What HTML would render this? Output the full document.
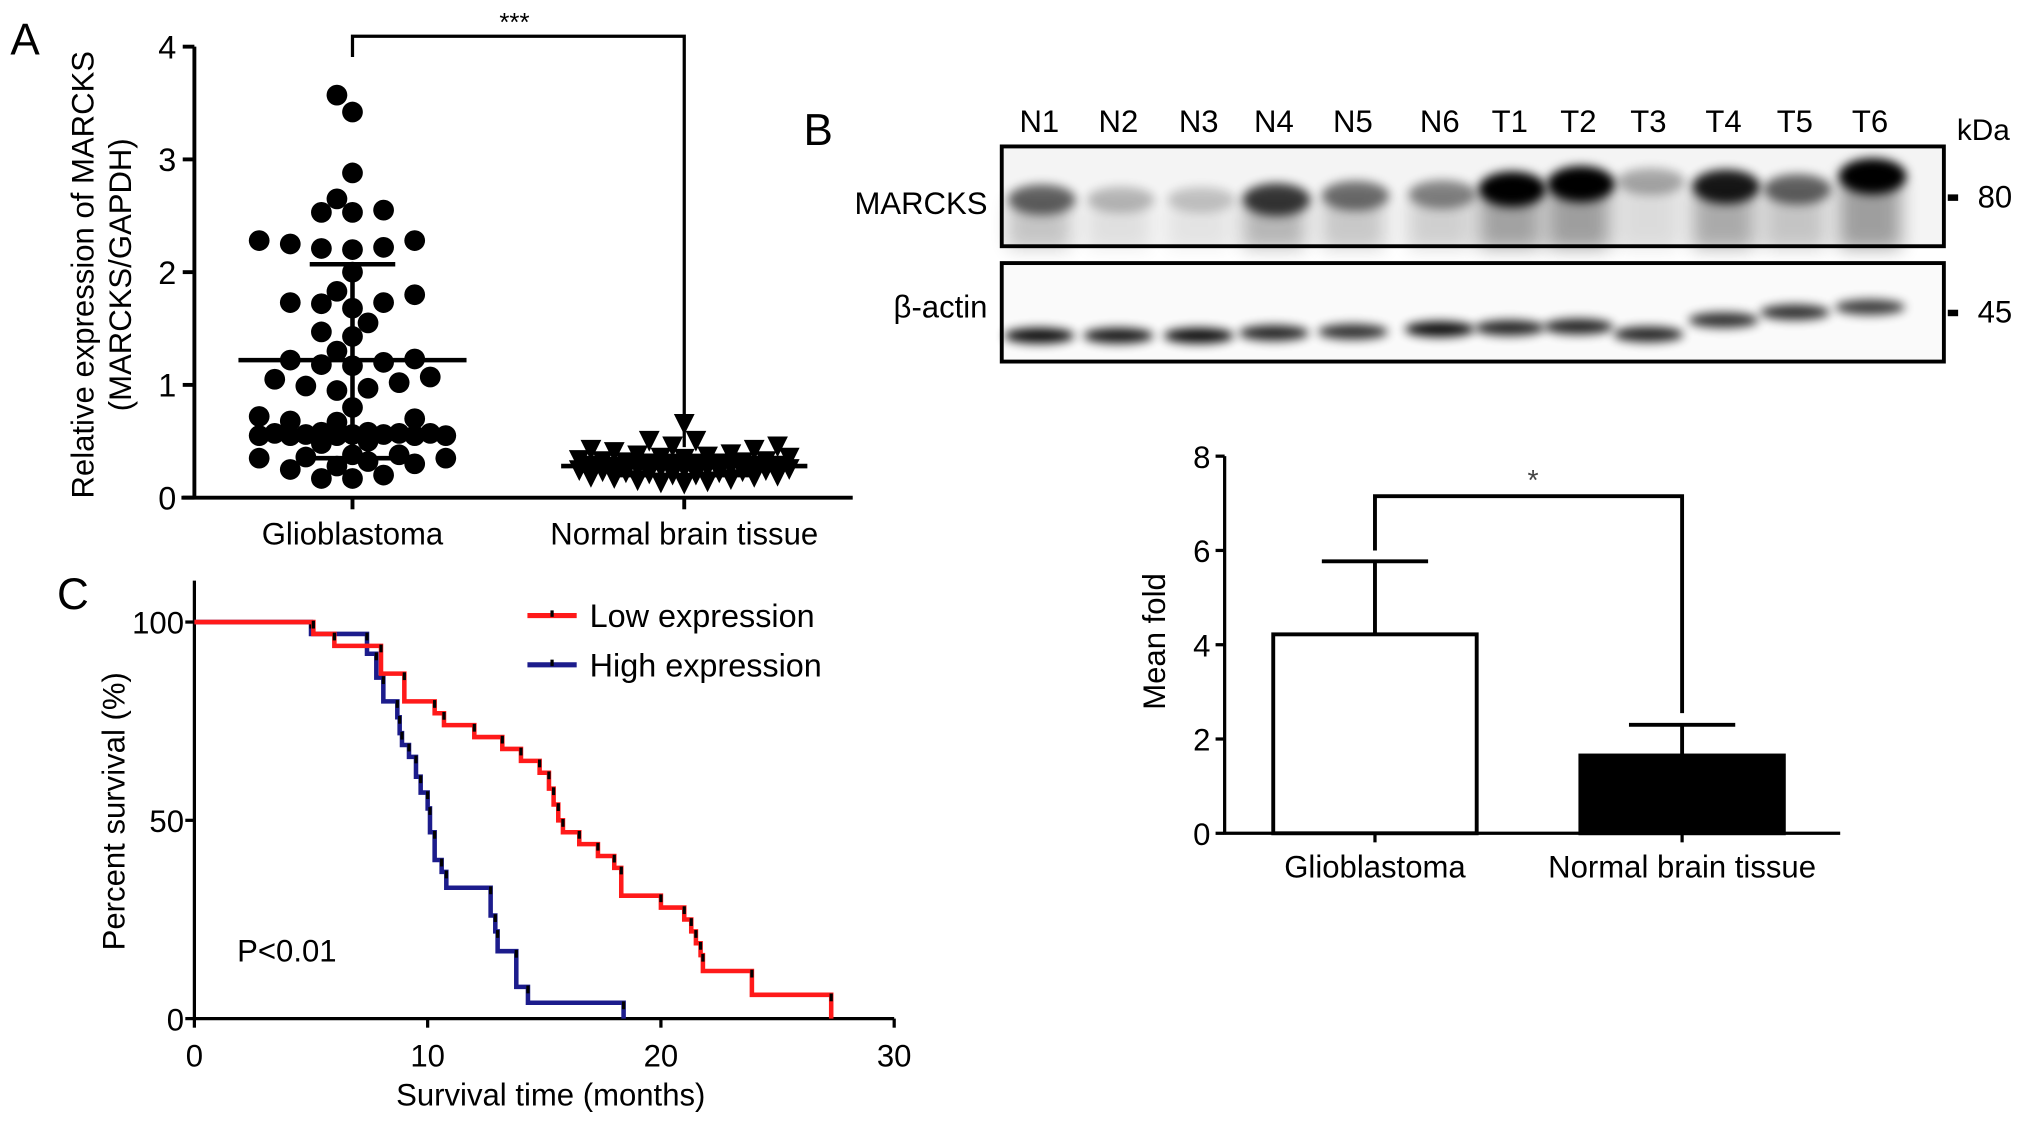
<!DOCTYPE html>
<html><head><meta charset="utf-8">
<style>
html,body{margin:0;padding:0;background:#fff;}
svg{display:block;font-family:"Liberation Sans",Arial,sans-serif;}
</style></head>
<body>
<svg id="fig" width="2032" height="1125" viewBox="0 0 1568 868.1" preserveAspectRatio="none" xmlns="http://www.w3.org/2000/svg">
<defs>
<filter id="blur" x="-50%" y="-100%" width="200%" height="300%"><feGaussianBlur stdDeviation="4"/></filter>
<filter id="blur2" x="-50%" y="-100%" width="200%" height="300%"><feGaussianBlur stdDeviation="7"/></filter>
</defs>
<g id="panelA"></g>
<g id="panelB"></g>
<g id="panelB2"></g>
<g id="panelC"></g>
</svg>
<script>
// ---------- Panel A data ----------
const aCategories = ["Glioblastoma", "Normal brain tissue"];
const aTicks = [0, 1, 2, 3, 4];
const gbmValues = [3.57,3.42,2.88,2.65,2.55,2.53,2.53,2.28,2.25,2.22,2.21,2.28,2.2,2.0,1.83,1.8,1.73,1.73,1.72,1.68,1.55,1.47,1.43,1.3,1.22,1.23,1.2,1.17,1.18,1.07,1.02,0.97,0.95,0.99,1.05,0.8,0.7,0.67,0.68,0.72,0.58,0.57,0.57,0.56,0.56,0.55,0.55,0.55,0.55,0.55,0.56,0.57,0.58,0.5,0.48,0.38,0.35,0.32,0.3,0.28,0.35,0.38,0.36,0.2,0.17,0.17,0.25];
const gbmStats = [1.22, 0.35, 2.07]; // mean, lower, upper
const normValues = [0.65,0.5,0.45,0.42,0.4,0.42,0.45,0.5,0.38,0.37,0.36,0.35,0.34,0.33,0.32,0.32,0.31,0.3,0.3,0.29,0.29,0.28,0.28,0.27,0.27,0.26,0.26,0.25,0.25,0.24,0.24,0.23,0.23,0.22,0.22,0.21,0.2,0.2,0.19,0.18,0.18,0.17,0.16,0.15,0.14,0.13,0.12,0.35,0.31,0.28,0.26];
const normStats = [0.28, 0.2, 0.37];

// ---------- Panel B data ----------
const laneLabels = ["N1","N2","N3","N4","N5","N6","T1","T2","T3","T4","T5","T6"];
const marcksIntensity = [0.55,0.22,0.18,0.72,0.5,0.42,0.95,1.0,0.28,0.85,0.55,1.0];
const marcksShift = [0,0,0,0,-3,-4,-8,-12,-14,-10,-8,-18];
const actinIntensity = [0.95,0.9,0.95,0.85,0.8,0.95,0.85,0.85,0.85,0.8,0.8,0.75];
const actinShift = [0,0,0,-2,-3,-5,-6,-7,-1,-12,-18,-22];
const barCategories = ["Glioblastoma","Normal brain tissue"];
const barMeans = [4.22, 1.65];
const barErrors = [5.77, 2.3];
const barTicks = [0,2,4,6,8];

// ---------- Panel C data ----------
const lowTimes = [0,5.1,6.0,8.0,9.0,10.3,10.7,12.0,13.2,14.0,14.8,15.2,15.4,15.6,15.8,16.5,17.3,18.0,18.3,20.0,21.0,21.3,21.5,21.7,21.8,23.9,27.3];
const lowSurv =  [100,97,94,87,80,77,74,71,68,65,62,58,54,50,47,44,41,38,31,28,25,22,19,16,12,6,0];
const highTimes = [0,5.0,7.4,7.8,8.1,8.7,8.8,8.9,9.2,9.5,9.7,10.0,10.1,10.3,10.6,10.8,12.7,12.9,13.0,13.8,14.3,18.4];
const highSurv =  [100,97,92,86,80,76,72,69,66,61,57,53,47,40,37,33,26,22,17,8,4,0];
const cXTicks = [0,10,20,30];
const cYTicks = [0,50,100];

const NS = "http://www.w3.org/2000/svg";
function el(tag, attrs, parent, text){
  const e = document.createElementNS(NS, tag);
  for (const k in attrs) e.setAttribute(k, attrs[k]);
  if (text !== undefined) e.textContent = text;
  parent.appendChild(e);
  return e;
}

// ================= Panel A =================
(function(){
  const g = document.getElementById('panelA');
  const x0 = 150, y0 = 384, yTop = 36;
  const yA = v => y0 - (v / 4) * (y0 - yTop);
  const catX = [272, 528];
  const t = el('text',{x:8,y:42,'font-size':34},g,'A');
  
  
  const ax = el('line',{x1:x0,y1:yTop,x2:x0,y2:y0+1,stroke:'#000','stroke-width':3},g);
  
  
  const xa = el('line',{x1:140,y1:y0,x2:658,y2:y0,stroke:'#000','stroke-width':3},g);
  
  
  aTicks.forEach(v=>{
    const tk = el('line',{x1:x0-9,y1:yA(v),x2:x0,y2:yA(v),stroke:'#000','stroke-width':3},g);
    
    
    const tl = el('text',{x:x0-14,y:yA(v)+9,'font-size':25,'text-anchor':'end'},g,String(v));
    
    
  });
  aCategories.forEach((c,i)=>{
    const tk = el('line',{x1:catX[i],y1:y0,x2:catX[i],y2:y0+9,stroke:'#000','stroke-width':3},g);
    
    
    const tl = el('text',{x:catX[i],y:420,'font-size':24,'text-anchor':'middle'},g,c);
    
    
  });
  const yt = el('text',{transform:'translate(72,212) rotate(-90)','font-size':24,'text-anchor':'middle'},g,'Relative expression of MARCKS');
  
  
  const yt2 = el('text',{transform:'translate(101,212) rotate(-90)','font-size':24,'text-anchor':'middle'},g,'(MARCKS/GAPDH)');
  
  
  // swarm with a maximum half-width; overlap allowed when crowded
  function swarm(vals, cx, minD, step, limit){
    const placed = [];
    const sorted = vals.slice().sort((a,b)=>a-b);
    return sorted.map(v=>{
      const y = yA(v);
      let best = null, bestD = -1;
      for (let k=0;;k++){
        const off = (k===0)?0:(Math.ceil(k/2)*step*(k%2?-1:1));
        if (Math.abs(off) > limit) break;
        const x = cx + off;
        let md = Infinity;
        placed.forEach(p=>{ md = Math.min(md, Math.hypot(p[0]-x,p[1]-y)); });
        if (md >= minD){ best = x; bestD = md; break; }
        if (md > bestD){ bestD = md; best = x; }
      }
      placed.push([best,y]);
      return [best,y];
    });
  }
  swarm(gbmValues, catX[0], 15, 12, 80).forEach(p=>{
    const c = el('circle',{cx:p[0],cy:p[1],r:8,fill:'#000'},g);
    
    
  });
  swarm(normValues, catX[1], 14, 9, 82).forEach(p=>{
    const s = 8;
    const tr = el('polygon',{points:`${p[0]-s},${p[1]-s} ${p[0]+s},${p[1]-s} ${p[0]},${p[1]+s}`,fill:'#000'},g);
    
    
  });
  function meanSd(cx, st, half, cap){
    const grp = el('g',{stroke:'#000','stroke-width':3.5},g);
    
    
    el('line',{x1:cx-half,y1:yA(st[0]),x2:cx+half,y2:yA(st[0])},grp);
    el('line',{x1:cx,y1:yA(st[1]),x2:cx,y2:yA(st[2])},grp);
    el('line',{x1:cx-cap,y1:yA(st[1]),x2:cx+cap,y2:yA(st[1])},grp);
    el('line',{x1:cx-cap,y1:yA(st[2]),x2:cx+cap,y2:yA(st[2])},grp);
  }
  meanSd(catX[0], gbmStats, 88, 33);
  meanSd(catX[1], normStats, 95, 50);
  const br = el('polyline',{points:`272,44 272,28 528,28 528,345`,fill:'none',stroke:'#000','stroke-width':2.5},g);
  
  
  const st = el('text',{x:397,y:24,'font-size':20,'text-anchor':'middle'},g,'***');
  
  
})();

// ================= Panel B blot =================
(function(){
  const g = document.getElementById('panelB');
  const laneX = [802,863,925,983,1044,1111,1165,1218,1272,1330,1385,1443];
  const b = el('text',{x:620,y:112,'font-size':34},g,'B');
  
  
  laneLabels.forEach((l,i)=>{
    const t = el('text',{x:laneX[i],y:102,'font-size':24,'text-anchor':'middle'},g,l);
    
    
  });
  const kda = el('text',{x:1510,y:108,'font-size':23},g,'kDa');
  
  
  const m1 = el('g',{},g);
  
  
  el('rect',{x:773,y:113,width:727,height:77,fill:'#f4f4f4'},m1);
  marcksIntensity.forEach((v,i)=>{
    const cy = 154 + marcksShift[i];
    const smear = el('rect',{x:laneX[i]-24,y:cy,width:48,height:190-cy+2,fill:'#000',opacity:v*0.35,filter:'url(#blur2)'},m1);
    
    
    const band = el('ellipse',{cx:laneX[i]+2,cy:cy,rx:26,ry:9+v*5,fill:'#000',opacity:Math.min(1,v*1.05),filter:'url(#blur)'},m1);
    
    
  });
  el('rect',{x:773,y:113,width:727,height:77,fill:'none',stroke:'#000','stroke-width':3},m1);
  const m2 = el('g',{},g);
  
  
  el('rect',{x:773,y:203,width:727,height:76,fill:'#fafafa'},m2);
  actinIntensity.forEach((v,i)=>{
    const band = el('ellipse',{cx:laneX[i],cy:259+actinShift[i],rx:27,ry:6,fill:'#000',opacity:v,filter:'url(#blur)'},m2);
    
    
  });
  el('rect',{x:773,y:203,width:727,height:76,fill:'none',stroke:'#000','stroke-width':3},m2);
  const ml = el('text',{x:762,y:165,'font-size':24,'text-anchor':'end'},g,'MARCKS');
  
  
  const al = el('text',{x:762,y:245,'font-size':24,'text-anchor':'end'},g,'β-actin');
  
  
  [[152,'80'],[241,'45']].forEach(m=>{
    const tk = el('rect',{x:1503,y:m[0]-2,width:8,height:5,fill:'#000'},g);
    
    
    const tl = el('text',{x:1526,y:m[0]+8,'font-size':24},g,m[1]);
    
    
  });
})();

// ================= Panel B bar chart =================
(function(){
  const g = document.getElementById('panelB2');
  const x0 = 945, y0 = 643, yTop = 352;
  const yB = v => y0 - (v/8)*(y0-yTop);
  const catX = [1061, 1298];
  const barW = 160;
  const ax = el('line',{x1:x0,y1:yTop,x2:x0,y2:y0+1,stroke:'#000','stroke-width':2.5},g);
  
  
  const xa = el('line',{x1:x0,y1:y0,x2:1420,y2:y0,stroke:'#000','stroke-width':2.5},g);
  
  
  barTicks.forEach(v=>{
    const tk = el('line',{x1:x0-7,y1:yB(v),x2:x0,y2:yB(v),stroke:'#000','stroke-width':2.5},g);
    
    
    const tl = el('text',{x:x0-11,y:yB(v)+9,'font-size':24,'text-anchor':'end'},g,String(v));
    
    
  });
  const yt = el('text',{transform:'translate(899,495) rotate(-90)','font-size':24,'text-anchor':'middle'},g,'Mean fold');
  
  
  barMeans.forEach((v,i)=>{
    const err = el('line',{x1:catX[i],y1:yB(v),x2:catX[i],y2:yB(barErrors[i]),stroke:'#000','stroke-width':3},g);
    
    
    const cap = el('line',{x1:catX[i]-41,y1:yB(barErrors[i]),x2:catX[i]+41,y2:yB(barErrors[i]),stroke:'#000','stroke-width':3},g);
    
    
    const r = el('rect',{x:catX[i]-barW/2+1.5,y:yB(v),width:barW-3,height:y0-yB(v),fill:i===0?'#fff':'#000',stroke:'#000','stroke-width':3},g);
    
    
    const tk = el('line',{x1:catX[i],y1:y0,x2:catX[i],y2:y0+7,stroke:'#000','stroke-width':2.5},g);
    
    
    const tl = el('text',{x:catX[i],y:677,'font-size':24,'text-anchor':'middle'},g,barCategories[i]);
    
    
  });
  const br = el('polyline',{points:`${catX[0]},${yB(6.0)} ${catX[0]},${yB(7.15)} ${catX[1]},${yB(7.15)} ${catX[1]},${yB(2.55)}`,fill:'none',stroke:'#000','stroke-width':3},g);
  
  
  const st = el('text',{x:1183,y:378,'font-size':22,'text-anchor':'middle',fill:'#444'},g,'*');
  
  
})();

// ================= Panel C =================
(function(){
  const g = document.getElementById('panelC');
  const x0 = 150, y0 = 786;
  const xC = t => x0 + t*18;
  const yC = s => y0 - s*3.06;
  const c = el('text',{x:44,y:470,'font-size':34},g,'C');
  
  
  const ya = el('line',{x1:x0,y1:448,x2:x0,y2:y0+1,stroke:'#000','stroke-width':2.5},g);
  
  
  const xa = el('line',{x1:x0,y1:y0,x2:690,y2:y0,stroke:'#000','stroke-width':2.5},g);
  
  
  cYTicks.forEach(v=>{
    const tk = el('line',{x1:x0-7,y1:yC(v),x2:x0,y2:yC(v),stroke:'#000','stroke-width':2.5},g);
    
    
    const tl = el('text',{x:x0-8,y:yC(v)+9,'font-size':24,'text-anchor':'end'},g,String(v));
    
    
  });
  cXTicks.forEach(v=>{
    const tk = el('line',{x1:xC(v),y1:y0,x2:xC(v),y2:y0+7,stroke:'#000','stroke-width':2.5},g);
    
    
    const tl = el('text',{x:xC(v),y:823,'font-size':24,'text-anchor':'middle'},g,String(v));
    
    
  });
  const xt = el('text',{x:425,y:853,'font-size':24,'text-anchor':'middle'},g,'Survival time (months)');
  
  
  const yt = el('text',{transform:'translate(96,626) rotate(-90)','font-size':24,'text-anchor':'middle'},g,'Percent survival (%)');
  
  
  function km(times, surv, color, name){
    let d = `M${xC(times[0])},${yC(surv[0])}`;
    for (let i=1;i<times.length;i++){
      d += ` H${xC(times[i])} V${yC(surv[i])}`;
    }
    const p = el('path',{d:d,fill:'none',stroke:color,'stroke-width':3.5},g);
    
    
    for (let i=1;i<times.length;i++){
      const m = el('line',{x1:xC(times[i]),y1:yC(surv[i-1])-1,x2:xC(times[i]),y2:yC(surv[i-1])+5,stroke:'#000','stroke-width':2.5},g);
      
      
    }
  }
  km(highTimes, highSurv, '#1c1c8c', 'high-expression-curve');
  km(lowTimes, lowSurv, '#ff1a1a', 'low-expression-curve');
  [['#ff1a1a','Low expression',475],['#1c1c8c','High expression',513]].forEach(L=>{
    const lg = el('g',{},g);
    
    
    el('line',{x1:407,y1:L[2],x2:445,y2:L[2],stroke:L[0],'stroke-width':4},lg);
    el('line',{x1:426,y1:L[2]-4,x2:426,y2:L[2]+1,stroke:'#000','stroke-width':2.5},lg);
    el('text',{x:455,y:L[2]+9,'font-size':25},lg,L[1]);
  });
  const pv = el('text',{x:183,y:742,'font-size':24},g,'P<0.01');
  
  
})();
</script>
</body></html>
